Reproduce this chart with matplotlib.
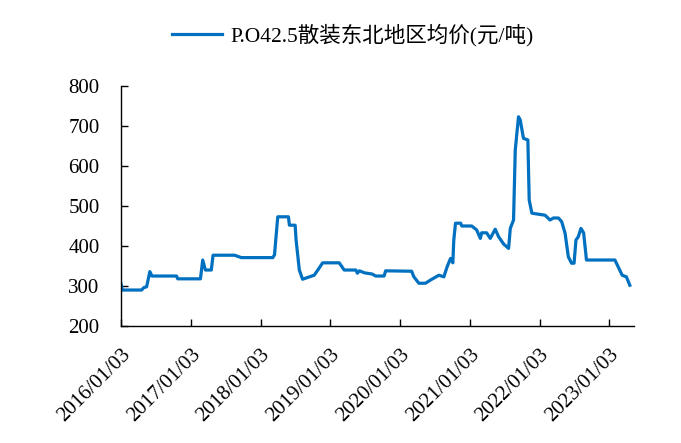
import matplotlib
matplotlib.use("Agg")
import matplotlib.pyplot as plt
import pandas as pd

plt.rcParams['font.family'] = ['Liberation Serif', 'Noto Sans CJK SC', 'DejaVu Sans']

series_name = "P.O42.5散装东北地区均价(元/吨)"

dates = [
    "2016-01-03", "2016-01-10", "2016-04-20", "2016-05-01", "2016-05-16", "2016-06-02", "2016-06-13",
    "2016-10-20", "2016-10-26", "2017-02-22", "2017-03-06", "2017-03-20", "2017-04-20", "2017-04-29",
    "2017-08-20", "2017-09-24", "2018-03-08", "2018-03-17", "2018-03-25", "2018-04-03", "2018-05-29",
    "2018-06-03", "2018-07-03", "2018-07-08", "2018-07-25", "2018-08-11", "2018-08-29", "2018-10-11",
    "2018-11-06", "2018-11-24", "2019-02-19", "2019-03-17", "2019-05-17", "2019-05-25", "2019-06-05",
    "2019-07-01", "2019-08-10", "2019-08-29", "2019-10-12", "2019-10-20", "2020-03-04", "2020-03-16",
    "2020-04-11", "2020-05-16", "2020-06-11", "2020-07-25", "2020-08-20", "2020-09-06", "2020-09-24",
    "2020-10-06", "2020-10-11", "2020-10-20", "2020-11-16", "2020-11-22", "2021-01-13", "2021-02-08",
    "2021-02-27", "2021-03-06", "2021-04-01", "2021-04-20", "2021-05-16", "2021-06-03", "2021-06-29",
    "2021-07-25", "2021-08-03", "2021-08-20", "2021-08-29", "2021-09-15", "2021-09-24", "2021-10-11",
    "2021-11-03", "2021-11-10", "2021-11-24", "2022-02-01", "2022-02-27", "2022-03-17", "2022-04-12",
    "2022-04-29", "2022-05-17", "2022-06-03", "2022-06-20", "2022-07-03", "2022-07-13", "2022-07-25",
    "2022-08-08", "2022-08-22", "2022-09-06", "2023-02-02", "2023-02-19", "2023-03-12", "2023-04-03",
    "2023-04-21",
]
values = [
    305, 290, 290, 296, 298, 336, 325,
    325, 318, 318, 365, 340, 340, 377,
    377, 371, 371, 378, 423, 473, 473,
    452, 452, 415, 340, 317, 320, 327,
    345, 358, 358, 340, 340, 332, 338,
    333, 330, 325, 325, 338, 337, 323,
    307, 307, 315, 327, 323, 348, 369,
    358, 415, 457, 457, 450, 450, 440,
    419, 433, 433, 419, 442, 423, 405,
    394, 444, 465, 640, 723, 715, 669,
    665, 515, 482, 477, 465, 470, 470,
    461, 432, 373, 357, 357, 415, 423,
    444, 433, 365, 365, 348, 327, 323,
    302,
]
tick_dates = ["2016-01-03", "2017-01-03", "2018-01-03", "2019-01-03",
              "2020-01-03", "2021-01-03", "2022-01-03", "2023-01-03"]
tick_labels = ["2016/01/03", "2017/01/03", "2018/01/03", "2019/01/03",
               "2020/01/03", "2021/01/03", "2022/01/03", "2023/01/03"]
y_ticks = [200, 300, 400, 500, 600, 700, 800]

x = pd.to_datetime(dates)
fig = plt.figure(figsize=(6.81, 4.43), dpi=100)
ax = fig.add_axes([0.1777, 0.264, 0.7533, 0.542])

line, = ax.plot(x, values, color="#0070C0", linewidth=2.3, solid_joinstyle="round")

ax.set_ylim(200, 800)
ax.set_yticks(y_ticks)
ax.set_xlim(pd.Timestamp("2016-01-03"), pd.Timestamp("2023-05-13"))
ax.set_xticks(pd.to_datetime(tick_dates))
ax.set_xticklabels(tick_labels, rotation=45, ha="right", va="top", rotation_mode="anchor")

for s in ["top", "right"]:
    ax.spines[s].set_visible(False)
for s in ["left", "bottom"]:
    ax.spines[s].set_color("black")
    ax.spines[s].set_linewidth(1.0)
ax.tick_params(axis="both", direction="in", length=5, width=1, colors="black", labelsize=15)
ax.tick_params(axis="y", pad=15.5)
ax.tick_params(axis="x", pad=14)

fig.legend([line], [series_name], loc="upper center", bbox_to_anchor=(0.518, 0.99),
           frameon=False, fontsize=15.5, handlelength=2.3, handletextpad=0.4)

fig.savefig("out.png", dpi=100)
